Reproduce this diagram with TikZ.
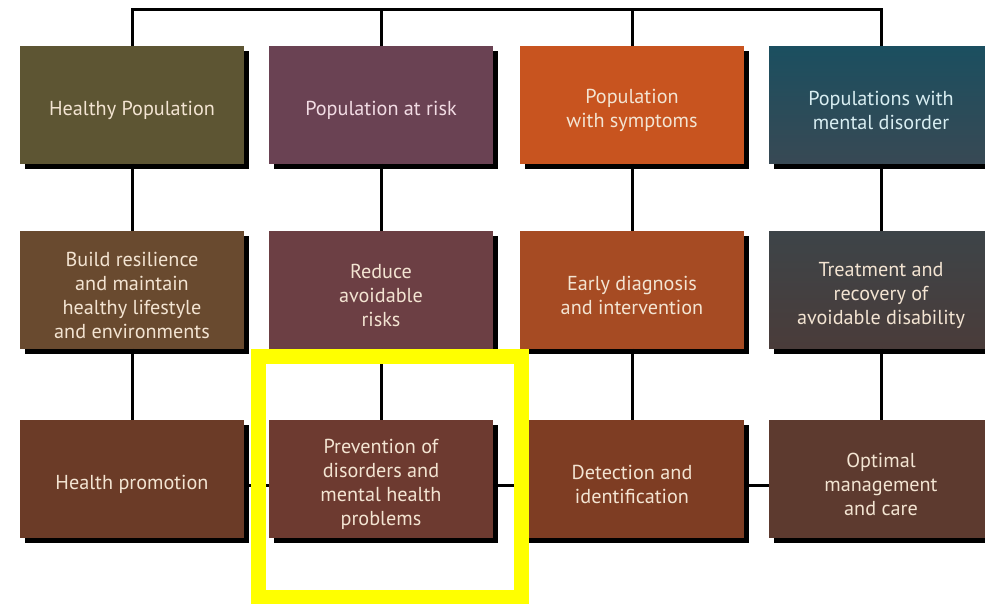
\documentclass[tikz,border=0pt]{standalone}
\usepackage{fontspec}
\setmainfont{PT Sans}
\usetikzlibrary{shadows}
\definecolor{healthy}{HTML}{5D5533}
\definecolor{risk}{HTML}{6A4253}
\definecolor{symptom}{HTML}{C8541F}
\definecolor{disordertop}{HTML}{1B4F60}
\definecolor{disorderbot}{HTML}{384954}
\definecolor{build}{HTML}{694A2F}
\definecolor{reduce}{HTML}{6C3F44}
\definecolor{early}{HTML}{A64B23}
\definecolor{treattop}{HTML}{3D4448}
\definecolor{treatbot}{HTML}{4A3C3A}
\definecolor{promo}{HTML}{6B3B27}
\definecolor{prevent}{HTML}{6D3A30}
\definecolor{detect}{HTML}{7E3D23}
\definecolor{optimal}{HTML}{5D3A2F}
\definecolor{cream}{HTML}{F3E4D2}
\definecolor{pinkish}{HTML}{F2DCE4}
\definecolor{icy}{HTML}{D8EEF2}
\definecolor{marker}{HTML}{FFFF00}
\tikzset{
  box/.style={minimum width=4.48cm, minimum height=2.36cm, inner sep=0pt, outer sep=0pt,
    align=center, text=cream, font=\fontsize{11.5}{13.6}\selectfont,
    execute at begin node={\rule{0pt}{\dimexpr 14pt+13.6pt*#1\relax}},
    drop shadow={shadow xshift=0.1cm, shadow yshift=-0.1cm, fill=black, opacity=1}},
  box/.default=0,
  link/.style={line width=0.06cm, black}
}
\begin{document}
\begin{tikzpicture}[x=0.02cm, y=-0.02cm]
\useasboundingbox (0,0) rectangle (985,604);
\coordinate (top) at (0,10);
\node[box, fill=healthy] (pop1) at (132,105) {Healthy Population};
\node[box, fill=risk, text=pinkish] (pop2) at (381,105) {Population at risk};
\node[box=1, fill=symptom] (pop3) at (632,105) {Population\\with symptoms};
\node[box=1, top color=disordertop, bottom color=disorderbot, text=icy] (pop4) at (881,105) {Populations with\\mental disorder};
\node[box=3, fill=build] (aim1) at (132,290) {Build resilience\\and maintain\\healthy lifestyle\\and environments};
\node[box=2, fill=reduce] (aim2) at (381,290) {Reduce\\avoidable\\risks};
\node[box=1, fill=early] (aim3) at (632,290) {Early diagnosis\\and intervention};
\node[box=2, top color=treattop, bottom color=treatbot] (aim4) at (881,290) {Treatment and\\recovery of\\avoidable disability};
\node[box, fill=promo] (act1) at (132,479) {Health promotion};
\node[box=3, fill=prevent] (act2) at (381,479) {Prevention of\\disorders and\\mental health\\problems};
\node[box=1, fill=detect] (act3) at (632,479) {Detection and\\identification};
\node[box=2, fill=optimal] (act4) at (881,479) {Optimal\\management\\and care};
\draw[link] (pop1.north) -- (pop1.north |- top) -- (pop4.north |- top) -- (pop4.north);
\draw[link] (pop2.north) -- (pop2.north |- top);
\draw[link] (pop3.north) -- (pop3.north |- top);
\foreach \i in {1,2,3,4} {
  \draw[link] (pop\i) -- (aim\i);
  \draw[link] (aim\i) -- (act\i);
}
\draw[link] ([yshift=-0.14cm]act1.east) -- ([yshift=-0.14cm]act2.west);
\draw[link] ([yshift=-0.14cm]act2.east) -- ([yshift=-0.14cm]act3.west);
\draw[link] ([yshift=-0.14cm]act3.east) -- ([yshift=-0.14cm]act4.west);
\draw[marker, line width=0.3cm] (258,357) rectangle (521,598);
\end{tikzpicture}
\end{document}
